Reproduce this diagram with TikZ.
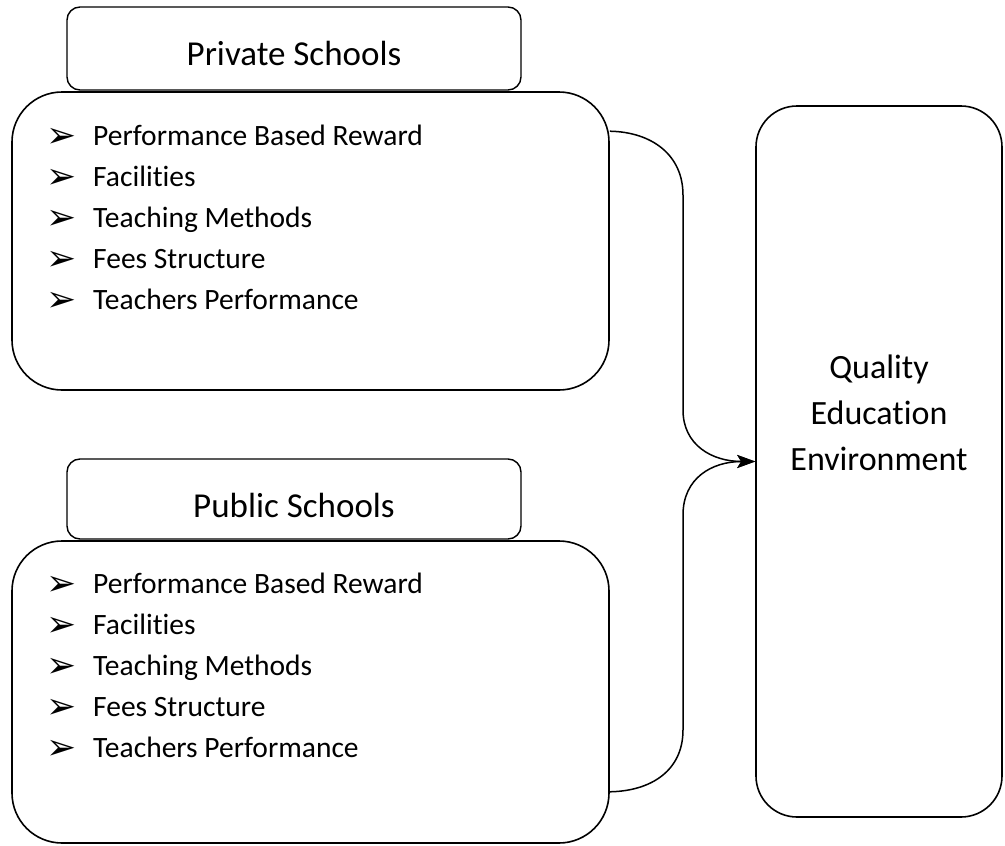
\documentclass[tikz,border=0pt]{standalone}
\usepackage{fontspec}
\setmainfont{Carlito}[Ligatures=NoCommon]
\newfontfamily\bulfont{DejaVu Sans}
\usetikzlibrary{arrows.meta,calc}
\tikzset{
  tbox/.style={draw, line width=1.4pt, rounded corners=13pt, inner sep=0pt},
  cbox/.style={draw, line width=1.6pt, rounded corners=50pt, inner sep=0pt},
  qbox/.style={draw, line width=1.6pt, rounded corners=41pt, inner sep=0pt},
  ttext/.style={anchor=base, inner sep=0pt, font=\fontsize{35}{40}\selectfont},
  qtext/.style={anchor=base, inner sep=0pt, font=\fontsize{34}{40}\selectfont},
  itemtext/.style={anchor=base west, inner sep=0pt, font=\fontsize{29.5}{35}\selectfont},
  bultext/.style={anchor=base west, inner sep=0pt, font=\bulfont\fontsize{36}{40}\selectfont},
  conn/.style={line width=1.5pt, -{Stealth[length=18pt,width=13pt,inset=4pt]}}
}
\begin{document}
\begin{tikzpicture}[x=1pt,y=-1pt]
\useasboundingbox (0,0) rectangle (1005,846);
% boxes
\node[cbox, minimum width=597pt, minimum height=298pt] (priv) at (310.5,241) {};
\node[tbox, minimum width=454pt, minimum height=83pt] (privt) at (294,48.5) {};
\node[cbox, minimum width=597pt, minimum height=302pt] (pub) at (310.5,692) {};
\node[tbox, minimum width=454pt, minimum height=80pt] (pubt) at (294,499) {};
\node[qbox, minimum width=246pt, minimum height=711pt] (qual) at (879,461.5) {};
% titles
\node[ttext] (privtt) at (294,65) {Private Schools};
\node[ttext] (pubtt) at (294,517) {Public Schools};
\node[qtext] (q1) at (879,378) {Quality};
\node[qtext] (q2) at (879,424) {Education};
\node[qtext] (q3) at (879,470) {Environment};
% lists
\foreach \t [count=\i] in {Performance Based Reward, Facilities, Teaching Methods, Fees Structure, Teachers Performance}{
  \node[bultext] (pb\i) at (46,{147+41.2*(\i-1)}) {➢};
  \node[itemtext] (pi\i) at (93,{145+41.2*(\i-1)}) {\t};
  \node[bultext] (ub\i) at (46,{595+41.2*(\i-1)}) {➢};
  \node[itemtext] (ui\i) at (93,{593+41.2*(\i-1)}) {\t};
}
% connectors
\draw[conn] ($(priv.north east)+(0,40)$) .. controls (652,132) and (683,155) .. (683,195)
  -- (683,410) .. controls (683,445) and (712,461.5) .. (qual.west);
\draw[conn] ($(pub.south east)+(0,-52)$) .. controls (652,791) and (683,770) .. (683,730)
  -- (683,515) .. controls (683,478) and (712,461.5) .. (qual.west);
\end{tikzpicture}
\end{document}
